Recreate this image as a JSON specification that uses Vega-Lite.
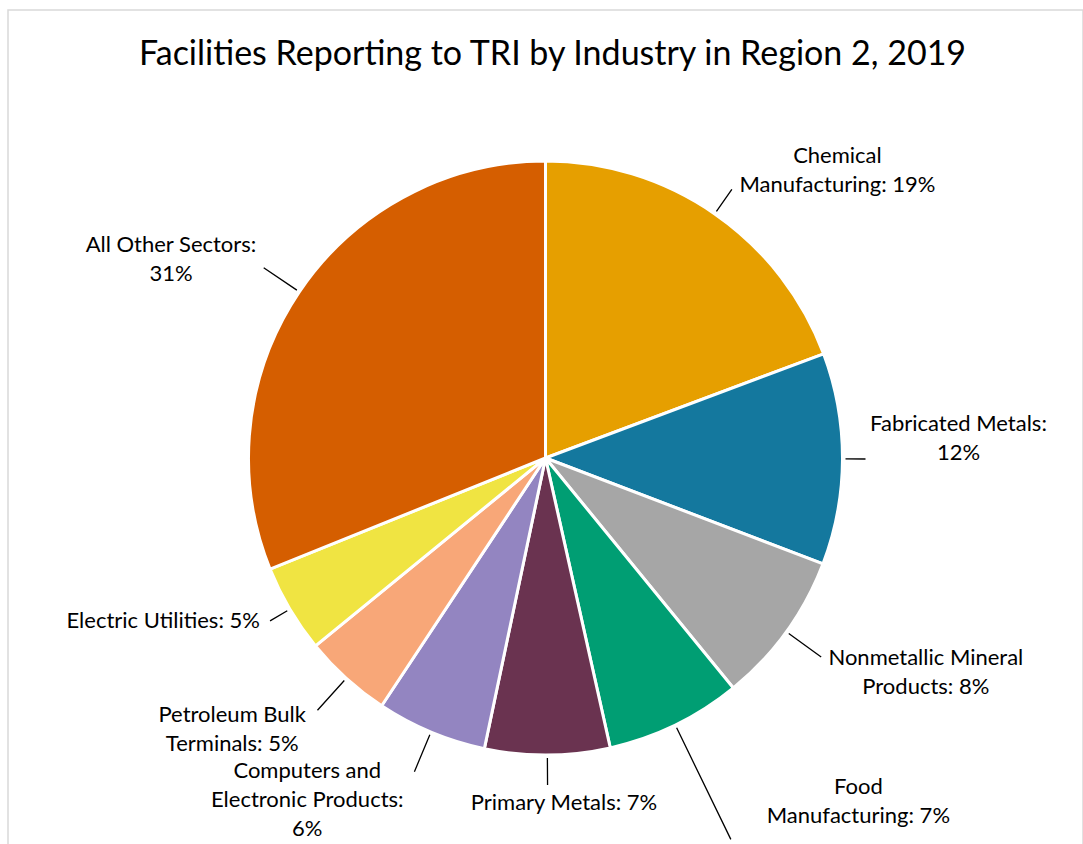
{
  "$schema": "https://vega.github.io/schema/vega-lite/v6.json",
  "autosize": "none",
  "padding": {"left": 8, "top": 10, "right": 0, "bottom": 0},
  "width": 1075,
  "height": 896,
  "background": "white",
  "view": {"stroke": "#D9D9D9", "strokeWidth": 1.5},
  "config": {"font": "Lato"},
  "title": {
    "text": "Facilities Reporting to TRI by Industry in Region 2, 2019",
    "font": "Lato",
    "fontSize": 34,
    "fontWeight": "normal",
    "color": "#000000",
    "anchor": "middle",
    "offset": -62,
    "dx": 7
  },
  "data": {
    "values": [
      {"sector": "Chemical Manufacturing", "share": 19.3, "rank": 1, "label": "Chemical\nManufacturing: 19%"},
      {"sector": "Fabricated Metals", "share": 11.5, "rank": 2, "label": "Fabricated Metals:\n12%"},
      {"sector": "Nonmetallic Mineral Products", "share": 8.3, "rank": 3, "label": "Nonmetallic Mineral\nProducts: 8%"},
      {"sector": "Food Manufacturing", "share": 7.4, "rank": 4, "label": "Food\nManufacturing: 7%"},
      {"sector": "Primary Metals", "share": 6.8, "rank": 5, "label": "Primary Metals: 7%"},
      {"sector": "Computers and Electronic Products", "share": 6.0, "rank": 6, "label": "Computers and\nElectronic Products:\n6%"},
      {"sector": "Petroleum Bulk Terminals", "share": 4.8, "rank": 7, "label": "Petroleum Bulk\nTerminals: 5%"},
      {"sector": "Electric Utilities", "share": 4.8, "rank": 8, "label": "Electric Utilities: 5%"},
      {"sector": "All Other Sectors", "share": 31.1, "rank": 9, "label": "All Other Sectors:\n31%"}
    ]
  },
  "encoding": {
    "theta": {"field": "share", "type": "quantitative", "stack": true},
    "order": {"field": "rank", "type": "quantitative"},
    "detail": {"field": "sector", "type": "nominal"}
  },
  "layer": [
    {
      "mark": {"type": "arc", "outerRadius": 297, "stroke": "#FFFFFF", "strokeWidth": 3},
      "encoding": {
        "color": {
          "field": "sector",
          "type": "nominal",
          "legend": null,
          "scale": {
            "domain": ["Chemical Manufacturing", "Fabricated Metals", "Nonmetallic Mineral Products", "Food Manufacturing", "Primary Metals", "Computers and Electronic Products", "Petroleum Bulk Terminals", "Electric Utilities", "All Other Sectors"],
            "range": ["#E69F00", "#14789E", "#A6A6A6", "#009E73", "#6A3350", "#9385C1", "#F8A778", "#F0E442", "#D55E00"]
          }
        }
      }
    },
    {
      "mark": {"type": "arc", "innerRadius": 300, "outerRadius": 320, "padAngle": 1.6, "fillOpacity": 0, "stroke": "#000000", "strokeWidth": 1.3},
      "encoding": {"strokeOpacity": {"condition": {"test": "datum.sector === 'Fabricated Metals' || datum.sector === 'Electric Utilities'", "value": 1}, "value": 0}}
    },
    {
      "mark": {"type": "arc", "innerRadius": 300, "outerRadius": 327, "padAngle": 1.6, "fillOpacity": 0, "stroke": "#000000", "strokeWidth": 1.3},
      "encoding": {"strokeOpacity": {"condition": {"test": "datum.sector === 'Primary Metals' || datum.sector === 'Chemical Manufacturing'", "value": 1}, "value": 0}}
    },
    {
      "mark": {"type": "arc", "innerRadius": 300, "outerRadius": 340, "padAngle": 1.6, "fillOpacity": 0, "stroke": "#000000", "strokeWidth": 1.3},
      "encoding": {"strokeOpacity": {"condition": {"test": "datum.sector === 'Nonmetallic Mineral Products' || datum.sector === 'Petroleum Bulk Terminals' || datum.sector === 'Computers and Electronic Products' || datum.sector === 'All Other Sectors'", "value": 1}, "value": 0}}
    },
    {
      "mark": {"type": "arc", "innerRadius": 300, "outerRadius": 424, "padAngle": 1.6, "fillOpacity": 0, "stroke": "#000000", "strokeWidth": 1.3},
      "encoding": {"strokeOpacity": {"condition": {"test": "datum.sector === 'Food Manufacturing'", "value": 1}, "value": 0}}
    },
    {
      "mark": {"type": "text", "radius": 400, "dx": 64, "dy": 27, "fontSize": 22, "lineBreak": "\n", "lineHeight": 29, "fill": "#000000"},
      "encoding": {"text": {"condition": {"test": "datum.sector === 'Chemical Manufacturing'", "field": "label", "type": "nominal"}, "value": ""}}
    },
    {
      "mark": {"type": "text", "radius": 400, "dx": 13, "dy": -35, "fontSize": 22, "lineBreak": "\n", "lineHeight": 29, "fill": "#000000"},
      "encoding": {"text": {"condition": {"test": "datum.sector === 'Fabricated Metals'", "field": "label", "type": "nominal"}, "value": ""}}
    },
    {
      "mark": {"type": "text", "radius": 400, "dx": 56, "dy": -34, "fontSize": 22, "lineBreak": "\n", "lineHeight": 29, "fill": "#000000"},
      "encoding": {"text": {"condition": {"test": "datum.sector === 'Nonmetallic Mineral Products'", "field": "label", "type": "nominal"}, "value": ""}}
    },
    {
      "mark": {"type": "text", "radius": 400, "dx": 138, "dy": -31, "fontSize": 22, "lineBreak": "\n", "lineHeight": 29, "fill": "#000000"},
      "encoding": {"text": {"condition": {"test": "datum.sector === 'Food Manufacturing'", "field": "label", "type": "nominal"}, "value": ""}}
    },
    {
      "mark": {"type": "text", "radius": 400, "dx": 16, "dy": -55, "fontSize": 22, "lineBreak": "\n", "lineHeight": 29, "fill": "#000000"},
      "encoding": {"text": {"condition": {"test": "datum.sector === 'Primary Metals'", "field": "label", "type": "nominal"}, "value": ""}}
    },
    {
      "mark": {"type": "text", "radius": 400, "dx": -84, "dy": -56, "fontSize": 22, "lineBreak": "\n", "lineHeight": 29, "fill": "#000000"},
      "encoding": {"text": {"condition": {"test": "datum.sector === 'Computers and Electronic Products'", "field": "label", "type": "nominal"}, "value": ""}}
    },
    {
      "mark": {"type": "text", "radius": 400, "dx": -45, "dy": -40, "fontSize": 22, "lineBreak": "\n", "lineHeight": 29, "fill": "#000000"},
      "encoding": {"text": {"condition": {"test": "datum.sector === 'Petroleum Bulk Terminals'", "field": "label", "type": "nominal"}, "value": ""}}
    },
    {
      "mark": {"type": "text", "radius": 400, "dx": -38, "dy": -41, "fontSize": 22, "lineBreak": "\n", "lineHeight": 29, "fill": "#000000"},
      "encoding": {"text": {"condition": {"test": "datum.sector === 'Electric Utilities'", "field": "label", "type": "nominal"}, "value": ""}}
    },
    {
      "mark": {"type": "text", "radius": 400, "dx": -43, "dy": 11, "fontSize": 22, "lineBreak": "\n", "lineHeight": 29, "fill": "#000000"},
      "encoding": {"text": {"condition": {"test": "datum.sector === 'All Other Sectors'", "field": "label", "type": "nominal"}, "value": ""}}
    }
  ]
}
